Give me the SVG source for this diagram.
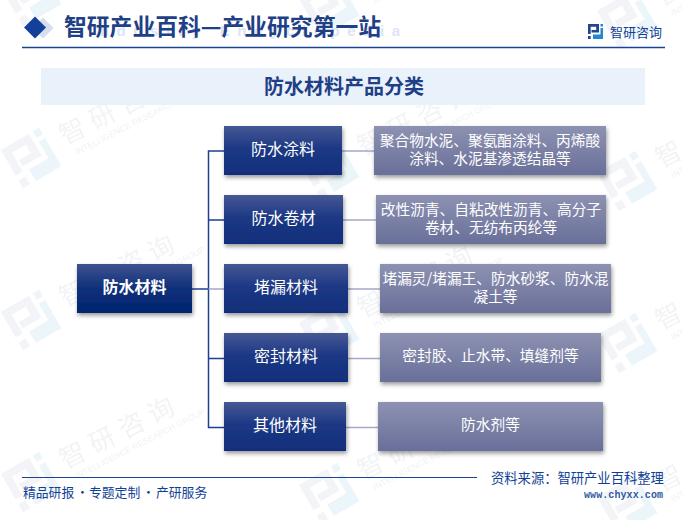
<svg xmlns="http://www.w3.org/2000/svg" width="682" height="520" viewBox="0 0 682 520">
<style>
.cjk{font-family:"Noto Sans CJK SC","Noto Sans",sans-serif}
.wmt{font-family:"Noto Sans CJK SC",sans-serif;font-size:26px;fill:#dde1e6;opacity:.38;letter-spacing:7px}
.wms{font-family:"Liberation Sans",sans-serif;font-size:8.500px;fill:#dde1e6;opacity:.45}
.box1{fill:url(#g1);filter:url(#sh)}
.box0{fill:url(#g0);filter:url(#sh)}
.box2{fill:url(#g2);filter:url(#sh)}
.t1{font-size:16px;fill:#fff;text-anchor:middle}
.t2{font-size:14.700px;fill:#fff;text-anchor:middle}
.c1{stroke:#1f3f8f;stroke-width:1.500;fill:none}
.c2{stroke:#a3a9c9;stroke-width:1.500;fill:none}
</style>
<defs>
<linearGradient id="g0" x1="0" y1="0" x2="0" y2="1"><stop offset="0" stop-color="#3f5290"/><stop offset=".5" stop-color="#0f2f7a"/><stop offset="1" stop-color="#002570"/></linearGradient>
<linearGradient id="g1" x1="0" y1="0" x2="0" y2="1"><stop offset="0" stop-color="#465894"/><stop offset=".45" stop-color="#1d3985"/><stop offset="1" stop-color="#112e7b"/></linearGradient>
<linearGradient id="g2" x1="0" y1="0" x2="0" y2="1"><stop offset="0" stop-color="#8d92b2"/><stop offset="1" stop-color="#696f99"/></linearGradient>
<filter id="sh" x="-10%" y="-15%" width="120%" height="135%"><feDropShadow dx="1" dy="2.500" stdDeviation="2" flood-color="#000" flood-opacity=".4"/></filter>
<g id="logoA"><path d="M0 0H11V8.500H3.500V6H8.200V2.700H2.700V10H0ZM0 12H2.700V15H0Z"/></g>
<g id="logoB"><path d="M12.500 0H15V2.500H12.500ZM5 10.500H12.500V4H15V15H5Z"/></g>
<g id="wm">
<g transform="rotate(-30) translate(-22 -22) scale(2.950)">
<use href="#logoA" fill="#e6eaef" opacity=".5"/>
<use href="#logoB" fill="#dceef6" opacity=".55"/>
</g>
<g transform="translate(86 -39) rotate(-27)">
<text class="wmt" x="-58" y="0">智研咨询</text>
<text class="wms" x="-52" y="14">INTELLIGENCE RESEARCH GROUP</text>
</g>
</g>
</defs>
<rect width="682" height="520" fill="#fff"/>
<g id="watermarks">
<use href="#wm" x="31" y="-4"/><use href="#wm" x="31" y="158"/><use href="#wm" x="31" y="320"/><use href="#wm" x="31" y="482"/>
<use href="#wm" x="329" y="7"/><use href="#wm" x="329" y="169"/><use href="#wm" x="329" y="331"/><use href="#wm" x="329" y="493"/>
<use href="#wm" x="627" y="19"/><use href="#wm" x="627" y="181"/><use href="#wm" x="627" y="343"/><use href="#wm" x="627" y="505"/>
</g>
<g id="header">
<text x="88" y="36" font-family="Liberation Sans,sans-serif" font-size="15" font-weight="700" fill="#dbe5f5" letter-spacing="7.600">Industry Encyclopedia</text>
<path d="M43 17.500L53.500 28L43 38.500L32.500 28Z" fill="#d6deee"/>
<path d="M35 16.500L46 27.500L35 38.500L24 27.500Z" fill="#12409a"/>
<text class="cjk" x="64" y="35" font-size="22.800" font-weight="700" fill="#1f3f86">智研产业百科—产业研究第一站</text>
<path d="M22 47.500H665" stroke="#1a4391" stroke-width="1.500"/>
<g transform="translate(588 24)"><use href="#logoA" fill="#23458f"/><use href="#logoB" fill="#1f8ad0"/></g>
<text class="cjk" x="610" y="36.500" font-size="13" fill="#123f96">智研咨询</text>
</g>
<g id="title">
<rect x="41" y="68" width="604" height="37" fill="#e9f1fb"/>
<text class="cjk" x="344" y="94" font-size="20" font-weight="700" fill="#1f3f86" text-anchor="middle">防水材料产品分类</text>
</g>
<g id="connectors">
<path class="c1" d="M224 151H208.500V427.500H224M208.500 220H224M208.500 358.500H224"/>
<path class="c1" d="M192 289H208.500"/>
<path class="c2" d="M208.500 289H224M342 151H374M343 220H376M348 289H380M348 358.500H380M346 427.500H378"/>
</g>
<g id="root" class="cjk"><rect class="box0" x="77" y="264" width="115" height="49"/><text class="t1" x="134.500" y="292.500" font-weight="700">防水材料</text></g>
<g id="n1" class="cjk"><rect class="box1" x="224" y="126" width="118" height="49"/><text class="t1" x="283" y="154.500">防水涂料</text></g>
<g id="n2" class="cjk"><rect class="box1" x="224" y="195" width="119" height="49"/><text class="t1" x="283.500" y="223.500">防水卷材</text></g>
<g id="n3" class="cjk"><rect class="box1" x="224" y="264" width="124" height="49"/><text class="t1" x="286" y="292.500">堵漏材料</text></g>
<g id="n4" class="cjk"><rect class="box1" x="224" y="333" width="124" height="49"/><text class="t1" x="286" y="361.500">密封材料</text></g>
<g id="n5" class="cjk"><rect class="box1" x="224" y="402" width="122" height="49"/><text class="t1" x="285" y="430.500">其他材料</text></g>
<g id="d1" class="cjk"><rect class="box2" x="374" y="126" width="232" height="49"/><text class="t2" x="490" y="146">聚合物水泥、聚氨酯涂料、丙烯酸</text><text class="t2" x="490" y="164">涂料、水泥基渗透结晶等</text></g>
<g id="d2" class="cjk"><rect class="box2" x="376" y="195" width="230" height="49"/><text class="t2" x="491" y="215">改性沥青、自粘改性沥青、高分子</text><text class="t2" x="491" y="233">卷材、无纺布丙纶等</text></g>
<g id="d3" class="cjk"><rect class="box2" x="380" y="264" width="231" height="49"/><text class="t2" x="495.500" y="284">堵漏灵/堵漏王、防水砂浆、防水混</text><text class="t2" x="495.500" y="302">凝土等</text></g>
<g id="d4" class="cjk"><rect class="box2" x="380" y="333" width="221" height="49"/><text class="t2" x="490.500" y="361">密封胶、止水带、填缝剂等</text></g>
<g id="d5" class="cjk"><rect class="box2" x="378" y="402" width="225" height="49"/><text class="t2" x="490.500" y="430">防水剂等</text></g>
<g id="footer">
<path d="M22 477.500H477" stroke="#1a4391" stroke-width="1.200"/>
<text class="cjk" y="497" font-size="12.800" fill="#123f96"><tspan x="23">精品研报</tspan><tspan x="76">·</tspan><tspan x="89">专题定制</tspan><tspan x="142">·</tspan><tspan x="156">产研服务</tspan></text>
<text class="cjk" x="491" y="483" font-size="13.300" fill="#123f96">资料来源&#xFF1A;智研产业百科整理</text>
<text x="584" y="498" font-family="Liberation Mono,monospace" font-size="10" font-weight="700" fill="#2f5aa0" textLength="79">www.chyxx.com</text>
</g>
</svg>
